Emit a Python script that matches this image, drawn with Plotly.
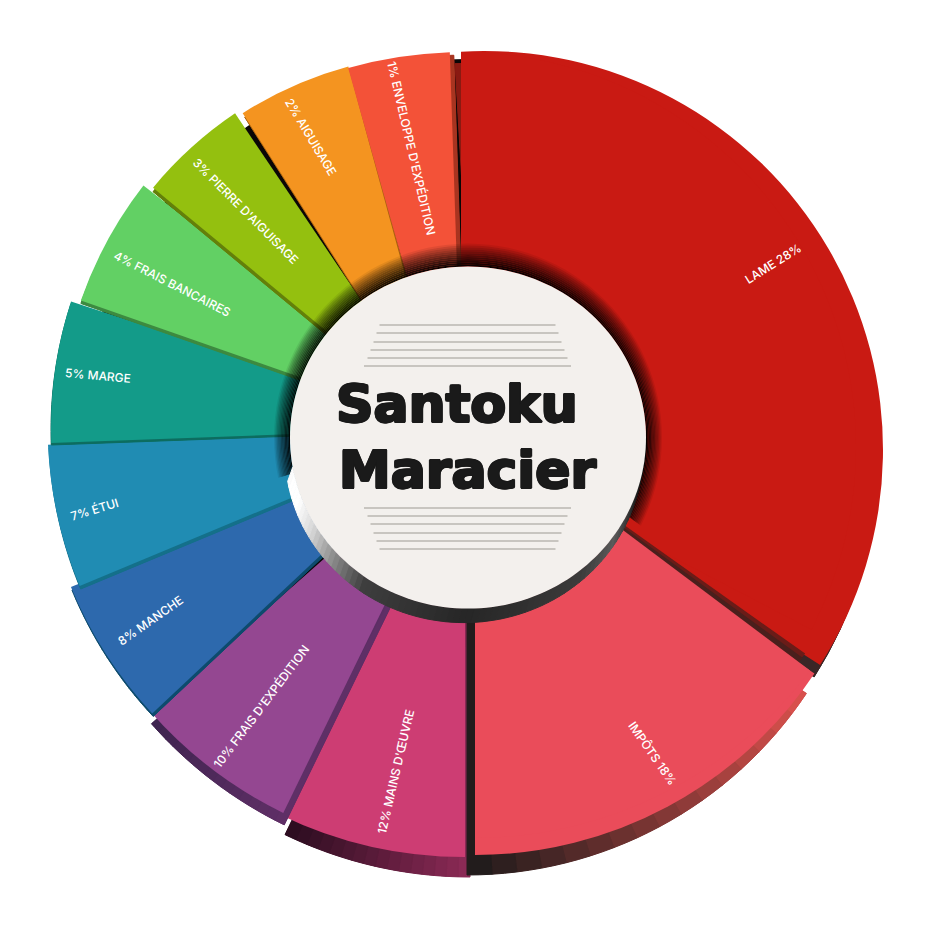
import plotly.graph_objects as go
import math

# ---------- data ----------
categories = ["LAME", "IMPÔTS", "MAINS D'ŒUVRE", "FRAIS D'EXPÉDITION", "MANCHE", "ÉTUI",
              "MARGE", "FRAIS BANCAIRES", "PIERRE D'AIGUISAGE", "AIGUISAGE", "ENVELOPPE D'EXPÉDITION"]
percent_labels = [28, 18, 12, 10, 8, 7, 5, 4, 3, 2, 1]
# sizes of the slices as they are drawn in the picture (degrees of the wheel)
slice_sizes = [125.9, 56.3, 25.8, 22.6, 20.9, 19.9, 20.1, 18.5, 16.4, 17.3, 13.8]
title_lines = ["Santoku", "Maracier"]

# ---------- styles ----------
W, H = 933, 931
colors = ["#c91a13", "#ea4c5a", "#cd3d73", "#944791", "#2d69ad", "#208cb3",
          "#139b89", "#62d064", "#94c00f", "#f49420", "#f35238"]
start_angle = [-3.3, 123.7, 180, 206, 226.8, 247.4, 267.9, 289.3, 309.6, 327.5, 344.3]
center_x = [484, 475, 465, 470, 454, 466.5, 460, 465, 452, 449, 464]
center_y = [450, 447, 432, 430, 430, 425, 428, 435, 435, 437, 480]
radius = [399, 408, 425, 426, 414, 419, 409, 407, 388, 384, 428]
wall_dx = [-6, -8, 5, 1, 1, 1, 0, 0, 0, 2, 4]
wall_dy = [12, 20, 20, 12, 3, 3, 2, 3, 4, 4, 3]
wall_from = ["#8a1a12", "#d8504c", "#8a2a55", "#5f2f66", "#0d4b6d", "#14708a",
             "#0d6d60", "#3d8a40", "#64800a", "#a8620f", "#a83420"]
wall_to = ["#3a2626", "#221c1c", "#2d0d20", "#3f2450", "#0d4b6d", "#14708a",
           "#0d6d60", "#3d8a40", "#64800a", "#a8620f", "#a83420"]
draw_order = [2, 3, 4, 5, 6, 7, 8, 9, 10, 0, 1]
label_x = [773, 653, 395, 261, 150, 94, 98, 172, 245, 311, 412]
label_y = [263, 753, 772, 706, 620, 510, 376, 283, 211, 136, 148]
label_angle = [-32, 55, -77, -53, -35, -17, 5, 27, 45, 59, 77]
CLEAR = "rgba(0,0,0,0)"


def hex_mix(a, b, t):
    pa = [int(a[i:i + 2], 16) for i in (1, 3, 5)]
    pb = [int(b[i:i + 2], 16) for i in (1, 3, 5)]
    return "#%02x%02x%02x" % tuple(round(x + (y - x) * t) for x, y in zip(pa, pb))


def domain(cx, cy, r):
    return dict(x=[(cx - r) / W, (cx + r) / W], y=[1 - (cy + r) / H, 1 - (cy - r) / H])


def disc_pie(values, cols, cx, cy, r, rot, line=None):
    return go.Pie(values=values, marker=dict(colors=cols, line=line or dict(width=0)), domain=domain(cx, cy, r),
                  rotation=rot, sort=False, direction="clockwise", textinfo="none",
                  hoverinfo="skip", showlegend=False)


def wedge(start, span, col, cx, cy, r):
    return disc_pie([span, 360 - span], [col, CLEAR], cx, cy, r, start)


fig = go.Figure()
# dark backing seen through the gaps
fig.add_trace(disc_pie([1], ["#0a0606"], 466, 447, 388, 0))

N_STEPS = 16
for i in draw_order:
    span = slice_sizes[i]
    rot = start_angle[i]
    if i == 1:
        # dark lip of the big slice just above this one, widening outwards
        for lip_start, lip_col in ((125.4, "#6a1c18"), (126.1, "#4a1f1c")):
            fig.add_trace(wedge(lip_start, 54, lip_col, 475, 419, 405))
    # side wall: same slice, moved, split into shaded steps over a solid underlay
    wx, wy = center_x[i] + wall_dx[i], center_y[i] + wall_dy[i]
    fig.add_trace(wedge(rot, span, hex_mix(wall_from[i], wall_to[i], 0.5), wx, wy, radius[i]))
    vals = [span / N_STEPS] * N_STEPS + [360 - span]
    cols = [hex_mix(wall_from[i], wall_to[i], s / (N_STEPS - 1)) for s in range(N_STEPS)] + [CLEAR]
    fig.add_trace(disc_pie(vals, cols, wx, wy, radius[i], rot, dict(width=1, color=cols)))
    # top face
    fig.add_trace(wedge(rot, span, colors[i], center_x[i], center_y[i], radius[i]))
    if i == 0:
        fig.add_trace(wedge(0, 117.5, colors[0], 461, 447, 395))
    if i == 1:
        fig.add_trace(wedge(126.9, 53.1, colors[1], 475, 419, 419))

# ---------- hub ----------
HX, HY, HRX, HRY = 468, 437.6, 178, 171


def ell(cx, cy, rx, ry, deg):
    a = math.radians(deg)
    return cx + rx * math.sin(a), cy - ry * math.cos(a)


def poly(points):
    return "M" + " L".join(f"{x:.1f},{y:.1f}" for x, y in points) + " Z"


shapes = []
# soft shadow around the hub on the upper slices
BANDS = 12
for b in range(BANDS):
    t0, t1 = b / BANDS, (b + 1) / BANDS
    angs = [258 + 3 * k for k in range(int((478 - 258) / 3) + 1)]
    outer = [ell(HX, HY, HRX + 16 * t1, HRY + 23 * t1, d) for d in angs]
    inner = [ell(HX, HY, HRX + 16 * t0, HRY + 23 * t0, d) for d in reversed(angs)]
    alpha = 0.97 * (1 - (t0 + t1) / 2) ** 0.8
    shapes.append(dict(type="path", path=poly(outer + inner), xref="paper", yref="paper",
                       fillcolor=f"rgba(0,0,0,{alpha:.3f})", line=dict(width=0), layer="above"))

# extruded rim of the hub
stops = [(90, "#000000"), (110, "#222222"), (125, "#5a5a5a"), (140, "#3c3c3c"), (180, "#262626"),
         (215, "#3e3e3e"), (228, "#8a8a8a"), (240, "#d8d8d8"), (250, "#ffffff"), (258, "#ffffff"), (270, "#dddddd")]


def rim_color(d):
    for (a0, c0), (a1, c1) in zip(stops, stops[1:]):
        if a0 <= d <= a1:
            return hex_mix(c0, c1, (d - a0) / (a1 - a0))
    return stops[-1][1]


for d in range(90, 260, 2):
    pts = [ell(HX, HY, HRX, HRY, d), ell(HX, HY, HRX, HRY, d + 2),
           ell(HX - 4, HY + 14, HRX + 1, HRY, d + 2), ell(HX - 4, HY + 14, HRX + 1, HRY, d)]
    c = rim_color(d + 1)
    shapes.append(dict(type="path", path=poly(pts), xref="paper", yref="paper", fillcolor=c,
                       line=dict(width=1, color=c), layer="above"))

hub = [ell(HX, HY, HRX, HRY, d) for d in range(0, 360, 2)]
shapes.append(dict(type="path", path=poly(hub), xref="paper", yref="paper", fillcolor="#f3f0ed",
                   line=dict(width=0), layer="above"))

# hatch lines above and below the title
rule_y = [325, 333, 342, 350, 358, 366, 508, 516, 524, 533, 541, 549]
rule_half = [88, 91, 94, 97, 100, 103.5, 103.5, 100, 97, 94, 91, 88]
for y, hw in zip(rule_y, rule_half):
    shapes.append(dict(type="line", x0=467.5 - hw, x1=467.5 + hw, y0=y, y1=y, xref="paper", yref="paper",
                       line=dict(color="#9e9a94", width=1.2), layer="above"))


def to_paper_path(path):
    out = []
    for tok in path.replace("M", "M ").replace("L", "L ").replace("Z", " Z").split():
        if "," in tok:
            x, y = tok.split(",")
            out.append(f"{float(x) / W:.5f},{1 - float(y) / H:.5f}")
        else:
            out.append(tok)
    return " ".join(out)


for s in shapes:
    if s["type"] == "path":
        s["path"] = to_paper_path(s["path"])
    else:
        s["x0"] /= W
        s["x1"] /= W
        s["y0"] = 1 - s["y0"] / H
        s["y1"] = 1 - s["y1"] / H

# ---------- text ----------
label_texts = []
for k, (cat, p) in enumerate(zip(categories, percent_labels)):
    label_texts.append(f"{cat} {p}%" if k < 2 else f"{p}% {cat}")

annotations = []
for t, x, y, ang in zip(label_texts, label_x, label_y, label_angle):
    annotations.append(dict(text=t, x=x / W, y=1 - y / H, xref="paper", yref="paper", textangle=ang,
                            showarrow=False, xanchor="center", yanchor="middle",
                            font=dict(family="Inter", size=12, color="#ffffff", weight=500)))
ink = "#1a1a1a"
thick = (f"1.3px 0 {ink}, -1.3px 0 {ink}, 0 1.1px {ink}, 0 -1.1px {ink}, "
         f"0.9px 0.9px {ink}, -0.9px -0.9px {ink}, 0.9px -0.9px {ink}, -0.9px 0.9px {ink}")
annotations.append(dict(text=title_lines[0], x=457 / W, y=1 - 404 / H, xref="paper", yref="paper", showarrow=False,
                        font=dict(family="DejaVu Sans", size=52, color=ink, weight=700, shadow=thick)))
annotations.append(dict(text=title_lines[1], x=467 / W, y=1 - 470 / H, xref="paper", yref="paper", showarrow=False,
                        font=dict(family="DejaVu Sans", size=52, color=ink, weight=700, shadow=thick)))

fig.update_layout(width=W, height=H, margin=dict(l=0, r=0, t=0, b=0), paper_bgcolor="#ffffff",
                  plot_bgcolor="#ffffff", showlegend=False, shapes=shapes, annotations=annotations)
fig.write_html("out.html", post_script="document.body.style.margin='0';",
               config=dict(displayModeBar=False))
